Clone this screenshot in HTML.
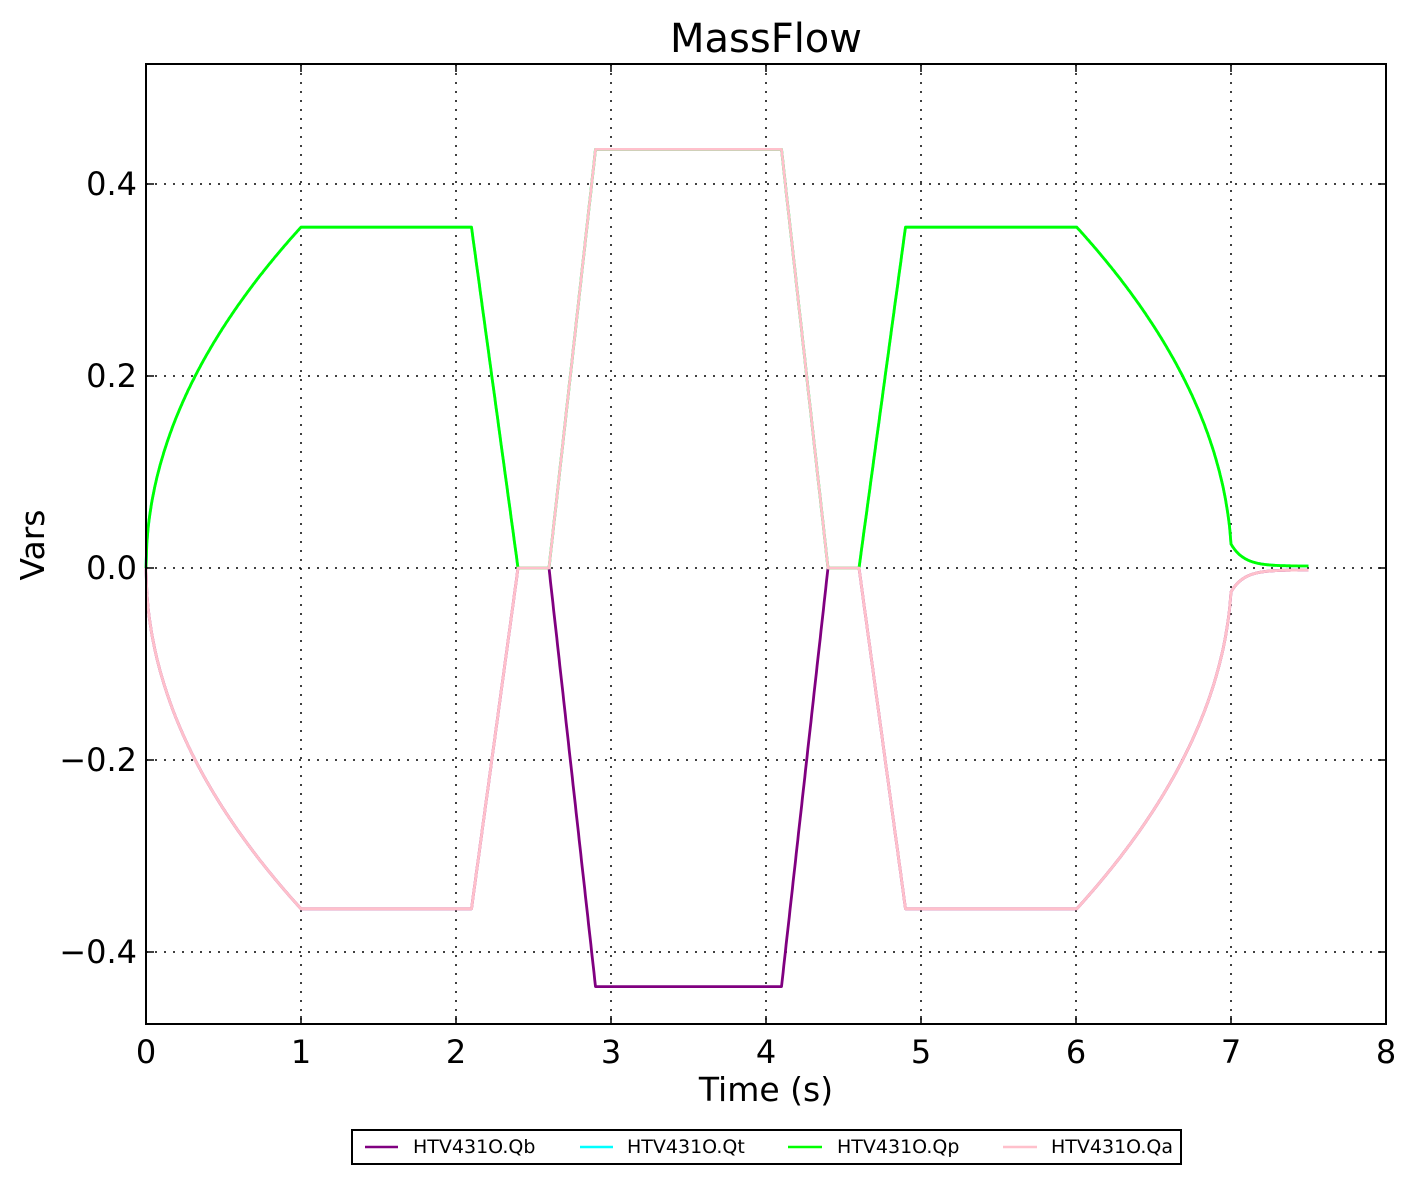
<!DOCTYPE html>
<html><head><meta charset="utf-8"><style>
body{margin:0;background:#fff;}
svg{display:block;font-family:"DejaVu Sans","Liberation Sans",sans-serif;}
</style></head><body>
<svg id="s" width="1414" height="1184" viewBox="0 0 1414 1184" xmlns="http://www.w3.org/2000/svg">
<rect width="1414" height="1184" fill="#fff"/>
<g id="grid" stroke="#000" stroke-width="1.5" stroke-dasharray="2,7"></g>
<g id="series" fill="none" stroke-width="2.8" stroke-linejoin="round"></g>
<rect x="146" y="64" width="1240" height="960" fill="none" stroke="#000" stroke-width="2"/>
<g id="ticks" stroke="#000" stroke-width="1.5"></g>
<g id="labels" font-size="32" fill="#000"></g>
<text x="766" y="52" font-size="40" text-anchor="middle">MassFlow</text>
<text x="766" y="1101" font-size="33" text-anchor="middle">Time (s)</text>
<text transform="translate(44,545) rotate(-90)" font-size="33" text-anchor="middle">Vars</text>
<rect x="352" y="1130" width="829" height="34" fill="#fff" stroke="#000" stroke-width="2"/>
<g font-size="19" fill="#000">
<line x1="365" y1="1147" x2="398" y2="1147" stroke="#800080" stroke-width="2.5"/><text x="413" y="1153">HTV431O.Qb</text>
<line x1="580" y1="1147" x2="613" y2="1147" stroke="#00ffff" stroke-width="2.5"/><text x="627" y="1153">HTV431O.Qt</text>
<line x1="788" y1="1147" x2="822" y2="1147" stroke="#00ff00" stroke-width="2.5"/><text x="837" y="1153">HTV431O.Qp</text>
<line x1="1003" y1="1147" x2="1037" y2="1147" stroke="#ffc0cb" stroke-width="2.5"/><text x="1051" y="1153">HTV431O.Qa</text>
</g>
</svg>
<script>
var NS="http://www.w3.org/2000/svg";
function X(t){return 146+155*t;}function Y(v){return 568-960*v;}
function el(p,tag,a,txt){var e=document.createElementNS(NS,tag);for(var k in a)e.setAttribute(k,a[k]);if(txt!=null)e.textContent=txt;document.getElementById(p).appendChild(e);}
for(var i=1;i<8;i++){el("grid","line",{x1:X(i),y1:64,x2:X(i),y2:1024});}
var yt=[-0.4,-0.2,0,0.2,0.4];
yt.forEach(function(v){el("grid","line",{x1:146,y1:Y(v),x2:1386,y2:Y(v)});
el("ticks","line",{x1:146,y1:Y(v),x2:154,y2:Y(v)});el("ticks","line",{x1:1378,y1:Y(v),x2:1386,y2:Y(v)});
el("labels","text",{x:137,y:Y(v)+11,"text-anchor":"end"},(v<0?"\u2212":"")+Math.abs(v).toFixed(1));});
for(var i=0;i<=8;i++){el("ticks","line",{x1:X(i),y1:1024,x2:X(i),y2:1016});el("ticks","line",{x1:X(i),y1:64,x2:X(i),y2:72});
el("labels","text",{x:X(i),y:1063,"text-anchor":"middle"},String(i));}
var A=0.355,B=0.436;
function mag(t){
 if(t<=1)return A*Math.sqrt(t);
 if(t<=2.1)return A;
 if(t<=2.4)return A*(2.4-t)/0.3;
 if(t<=2.6)return 0;
 if(t<=2.9)return B*(t-2.6)/0.3;
 if(t<=4.1)return B;
 if(t<=4.4)return B*(4.4-t)/0.3;
 if(t<=4.6)return 0;
 if(t<=4.9)return A*(t-4.6)/0.3;
 if(t<=6)return A;
 if(t<=7)return Math.sqrt(A*A*(7-t)+0.025*0.025);
 return 0.023*Math.exp(-(t-7)*12)+0.002;
}
function mid(t){return t>=2.6&&t<=4.4;}
var ts=[];for(var t=0;t<=7.5001;t+=0.005)ts.push(+t.toFixed(3));
[2.1,2.4,2.6,2.9,4.1,4.4,4.6,4.9,6,7].forEach(function(k){ts.push(k);});ts.sort(function(a,b){return a-b;});
function pts(f){return ts.map(function(t){return X(t).toFixed(1)+","+Y(f(t)).toFixed(1);}).join(" ");}
el("series","polyline",{points:pts(function(t){return -mag(t);}),stroke:"#800080"});
el("series","polyline",{points:pts(function(t){return mag(t);}),stroke:"#00ffff"});
el("series","polyline",{points:pts(function(t){return mag(t);}),stroke:"#00ff00"});
el("series","polyline",{points:pts(function(t){return mid(t)?mag(t):-mag(t);}),stroke:"#ffc0cb"});
</script>
</body></html>
